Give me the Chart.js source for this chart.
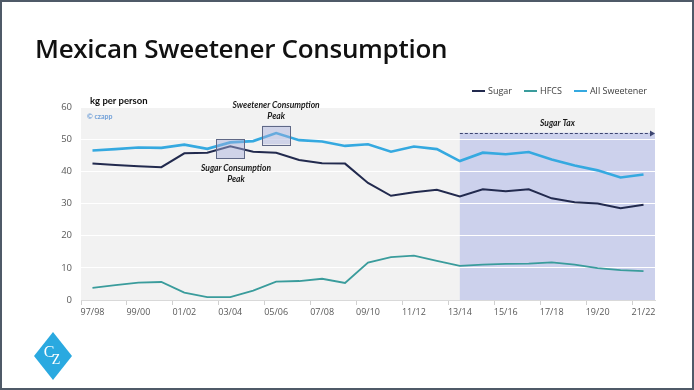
<!DOCTYPE html>
<html>
<head>
<meta charset="utf-8">
<script src="https://cdn.jsdelivr.net/npm/chart.js@4.4.1/dist/chart.umd.min.js"></script>
<style>
html, body { margin: 0; padding: 0; background: #fff; }
#frame { position: relative; width: 694px; height: 390px; overflow: hidden; font-family: "Open Sans", sans-serif; }
#chartBox { position: absolute; left: 0; top: 0; width: 694px; height: 390px; }
#border { position: absolute; left: 0; top: 0; width: 694px; height: 390px; box-sizing: border-box; border: 2px solid #4f5a68; pointer-events: none; }
#title { position: absolute; left: 35px; top: 30px; font-size: 26px; font-weight: 600; color: #111; white-space: nowrap; letter-spacing: -0.3px; }
#legend { position: absolute; left: 472px; top: 84px; display: flex; font-size: 9px; color: #404040; white-space: nowrap; }
#legend .item { display: flex; align-items: center; margin-right: 12px; }
#legend .swatch { width: 13px; height: 2px; margin-right: 3px; }
#unit { position: absolute; left: 90px; top: 95px; font-family: Lato, sans-serif; font-weight: bold; font-size: 9.5px; color: #111; }
#copy { position: absolute; left: 87px; top: 112px; font-family: Lato, sans-serif; font-weight: bold; font-size: 7px; color: #6f9fd8; }
#logo { position: absolute; left: 30px; top: 330px; }
</style>
</head>
<body>
<div id="frame">
  <div id="chartBox"><canvas id="chart"></canvas></div>
  <div id="title">Mexican Sweetener Consumption</div>
  <div id="legend"></div>
  <div id="unit">kg per person</div>
  <div id="copy">© czapp</div>
  <svg id="logo" width="46" height="52" viewBox="0 0 46 52">
    <polygon points="23,2 42,26 23,50 4,26" fill="#2aa9e0"/>
    <text x="19" y="27" font-family="Liberation Serif, serif" font-size="16" fill="#fff" text-anchor="middle">C</text>
    <text x="26" y="34" font-family="Liberation Serif, serif" font-size="14" fill="#fff" text-anchor="middle">Z</text>
  </svg>
  <div id="border"></div>
</div>
<script>
// 季度（年度）类别
const seasons = ['97/98', '98/99', '99/00', '00/01', '01/02', '02/03', '03/04', '04/05', '05/06',
  '06/07', '07/08', '08/09', '09/10', '10/11', '11/12', '12/13', '13/14', '14/15', '15/16',
  '16/17', '17/18', '18/19', '19/20', '20/21', '21/22'];

// 数据（kg per person）
const sugar = [42.4, 42.0, 41.6, 41.3, 45.6, 45.8, 47.8, 46.1, 45.8, 43.5, 42.5, 42.4, 36.4,
  32.4, 33.5, 34.3, 32.2, 34.4, 33.8, 34.4, 31.6, 30.4, 30.0, 28.5, 29.6];
const hfcs = [3.8, 4.6, 5.4, 5.6, 2.3, 0.9, 0.9, 2.9, 5.7, 5.9, 6.6, 5.3, 11.6,
  13.3, 13.8, 12.2, 10.6, 11.0, 11.2, 11.3, 11.7, 11.0, 9.9, 9.3, 9.0];
const allSweetener = [46.5, 46.9, 47.4, 47.3, 48.3, 47.0, 49.0, 49.4, 51.9, 49.7, 49.3, 47.9, 48.4,
  46.1, 47.7, 46.9, 43.2, 45.8, 45.3, 46.0, 43.7, 41.8, 40.3, 38.1, 39.0];

// 刻度标签
const xTickLabels = ['97/98', '99/00', '01/02', '03/04', '05/06', '07/08', '09/10',
  '11/12', '13/14', '15/16', '17/18', '19/20', '21/22'];
const yTicks = [0, 10, 20, 30, 40, 50, 60];

const seriesStyle = [
  { label: 'Sugar', data: sugar, color: '#222a4e', width: 2 },
  { label: 'HFCS', data: hfcs, color: '#3a9c9c', width: 1.8 },
  { label: 'All Sweetener', data: allSweetener, color: '#35a9e0', width: 2.6 }
];

// 注释（数据坐标）
const peakBoxes = [
  { x: 6, half: 0.6, yTop: 50, yBottom: 44 },
  { x: 8, half: 0.6, yTop: 54.2, yBottom: 48.4 }
];
const notes = [
  { x: 8, y: 60.4, text: 'Sweetener Consumption' },
  { x: 8, y: 57.0, text: 'Peak' },
  { x: 6.25, y: 41.0, text: 'Sugar Consumption' },
  { x: 6.25, y: 37.6, text: 'Peak' }
];
const taxStart = 16;
const taxTop = 52;

// 图例
const legendEl = document.getElementById('legend');
seriesStyle.forEach(s => {
  const item = document.createElement('div');
  item.className = 'item';
  item.innerHTML = `<span class="swatch" style="background:${s.color}"></span>${s.label}`;
  legendEl.appendChild(item);
});

// 背景和糖税区域
const backdrop = {
  id: 'backdrop',
  beforeDraw(chart) {
    const { ctx, chartArea: a, scales: { x, y } } = chart;
    ctx.save();
    ctx.fillStyle = '#f2f2f2';
    ctx.fillRect(a.left, a.top, a.right - a.left, a.bottom - a.top);
    const x0 = x.getPixelForValue(taxStart);
    const y0 = y.getPixelForValue(taxTop);
    ctx.fillStyle = 'rgba(178,186,231,0.6)';
    ctx.fillRect(x0, y0, a.right - x0, a.bottom - y0);
    ctx.restore();
  },
  afterDatasetsDraw(chart) {
    const { ctx, chartArea: a, scales: { x, y } } = chart;
    const cat = x.getPixelForValue(1) - x.getPixelForValue(0);
    ctx.save();
    // 峰值框
    peakBoxes.forEach(b => {
      const l = x.getPixelForValue(b.x) - b.half * cat;
      const t = y.getPixelForValue(b.yTop);
      const w = 2 * b.half * cat;
      const h = y.getPixelForValue(b.yBottom) - t;
      ctx.fillStyle = 'rgba(165,172,220,0.45)';
      ctx.fillRect(l, t, w, h);
      ctx.strokeStyle = '#5f6886';
      ctx.lineWidth = 1;
      ctx.strokeRect(Math.round(l) + 0.5, Math.round(t) + 0.5, Math.round(w), Math.round(h));
    });
    // 注释文字
    ctx.font = 'italic bold 8.5px Lato';
    ctx.fillStyle = '#1a1a1a';
    ctx.textAlign = 'center';
    ctx.textBaseline = 'middle';
    notes.forEach(n => ctx.fillText(n.text, x.getPixelForValue(n.x), y.getPixelForValue(n.y)));
    // 糖税箭头
    const x0 = x.getPixelForValue(taxStart);
    const yy = Math.round(y.getPixelForValue(taxTop)) + 0.5;
    ctx.strokeStyle = '#3c4470';
    ctx.lineWidth = 1.2;
    ctx.setLineDash([3, 2]);
    ctx.beginPath();
    ctx.moveTo(x0, yy);
    ctx.lineTo(a.right - 4, yy);
    ctx.stroke();
    ctx.setLineDash([]);
    ctx.fillStyle = '#3c4470';
    ctx.beginPath();
    ctx.moveTo(a.right, yy);
    ctx.lineTo(a.right - 5, yy - 3);
    ctx.lineTo(a.right - 5, yy + 3);
    ctx.closePath();
    ctx.fill();
    ctx.fillStyle = '#1a1a1a';
    ctx.fillText('Sugar Tax', (x0 + a.right) / 2, yy - 10);
    ctx.restore();
  }
};

new Chart(document.getElementById('chart'), {
  type: 'line',
  data: {
    labels: seasons,
    datasets: seriesStyle.map(s => ({
      label: s.label,
      data: s.data,
      borderColor: s.color,
      backgroundColor: s.color,
      borderWidth: s.width,
      pointRadius: 0,
      tension: 0,
      fill: false
    }))
  },
  options: {
    responsive: true,
    maintainAspectRatio: false,
    animation: false,
    layout: { padding: { left: 0, top: 107, right: 39, bottom: 70 } },
    plugins: { legend: { display: false }, tooltip: { enabled: false } },
    scales: {
      x: {
        offset: true,
        afterFit: s => { s.height = 20; },
        grid: {
          offset: true,
          drawOnChartArea: false,
          tickLength: 5,
          color: c => (c.index % 2 === 0 ? '#d0d0d0' : 'rgba(0,0,0,0)')
        },
        border: { display: true, color: '#d9d9d9' },
        ticks: {
          autoSkip: false,
          maxRotation: 0,
          padding: 2,
          color: '#595959',
          font: { family: 'Open Sans', size: 9 },
          callback: (v, i) => (xTickLabels.includes(seasons[i]) ? seasons[i] : '')
        }
      },
      y: {
        min: 0,
        max: 60,
        afterFit: s => { s.width = 81; },
        afterBuildTicks: s => { s.ticks = yTicks.map(v => ({ value: v })); },
        grid: { color: '#ffffff', lineWidth: 1, drawTicks: false },
        border: { display: false },
        ticks: {
          padding: 9,
          color: '#595959',
          font: { family: 'Open Sans', size: 9.5 }
        }
      }
    }
  },
  plugins: [backdrop]
});
</script>
</body>
</html>
